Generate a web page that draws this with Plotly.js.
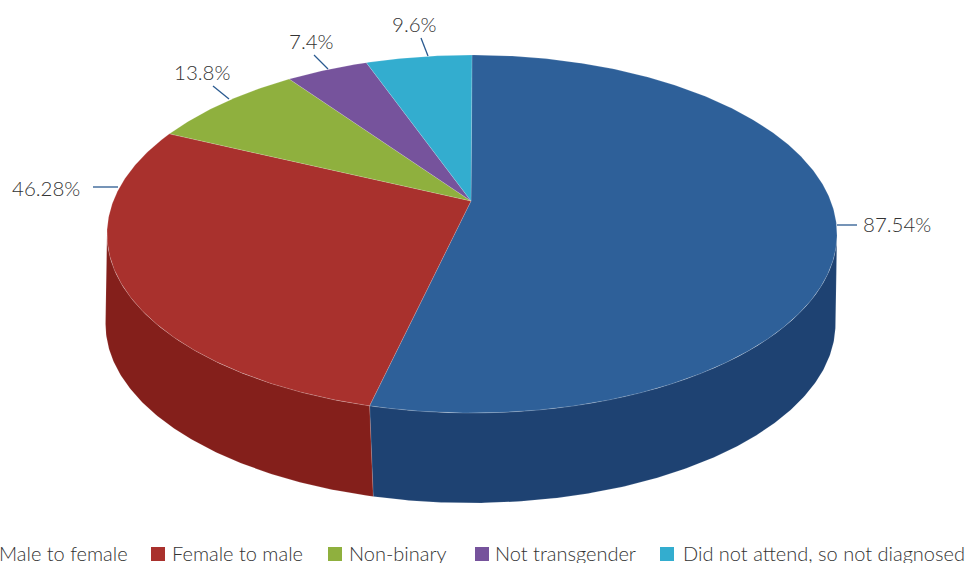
<!DOCTYPE html>
<html><head><meta charset="utf-8">
<script src="https://cdn.plot.ly/plotly-3.0.1.min.js"></script>
<style>html,body{margin:0;padding:0;background:#fff;overflow:hidden}</style>
</head><body><div id="chart" style="width:966px;height:563px"></div>
<script>
const categories = ["Male to female","Female to male","Non-binary","Not transgender","Did not attend, so not diagnosed"];
const values = [87.54,46.28,13.8,7.4,9.6];
const topColors = ["#2e6099","#a9312d","#8fb03e","#76539c","#33adcf"];
const wallColors = ["#1e4272","#841f1b","#7a9a30","#5f4080","#2790ad"];
const labelX = [897,46,202,311,414];
const labelY = [224,188,72,41,24];
const leaders = [[837,225,857,225],[93,187,118,187],[213,86,229,99],[314,55,328,69],[421,38,428,56]];
const legendSwatchX = [-22,158,335,482,667];
const legendTextX = [0,172,349,495,683];
const LEGEND_Y = 553;

const CX=472, CY=234, RX=365, RY=179, APEX_Y=201, DEPTH=90, DX=-1.5;
const deg=Math.PI/180, TAU=2*Math.PI;
const k=(CY-APEX_Y)/RY, a=RX*Math.sqrt(1-k*k);
function project(theta,dx,dy){ // theta clockwise from top, in radians
  const u=Math.sin(theta), v=-Math.cos(theta), w=1-k*v;
  return [CX+dx+a*u/w, CY+dy+(RY*v-k*RY)/w];
}
// small angular skew of the 3D view
function skew(t){const f=t/TAU;return t+2.5*deg*Math.sin(Math.PI*Math.pow(f,1.8));}
const total=values.reduce((s,v)=>s+v,0);
const traces=[];
const thetaRight=Math.acos(-k), thetaLeft=TAU-thetaRight;
let start=0;
const spans=values.map(v=>{const e=start+v/total*TAU;const s=[skew(start),skew(e)];start=e;return s;});
function arc(t0,t1,dx,dy){
  const n=Math.max(2,Math.ceil(Math.abs(t1-t0)*120)),p=[];
  for(let i=0;i<=n;i++)p.push(project(t0+(t1-t0)*i/n,dx,dy));
  return p;
}
function poly(pts,fill,line,lw,name){
  traces.push({type:"scatter",mode:"lines",x:pts.map(p=>p[0]),y:pts.map(p=>p[1]),fill:"toself",fillcolor:fill,
    line:{color:line,width:lw},hoverinfo:"skip",showlegend:false,name:name});
}
const SEAM=0.7*deg; // the seam leans slightly between top and bottom rim
spans.forEach((s,i)=>{
  const t0=Math.max(s[0],thetaRight), t1=Math.min(s[1],thetaLeft);
  if(t1>t0){
    const b0=t0>thetaRight?t0-SEAM:t0, b1=t1<thetaLeft?t1-SEAM:t1;
    const pts=arc(t0,t1,0,0).concat(arc(b1,b0,DX,DEPTH));
    pts.push(pts[0]);
    poly(pts,wallColors[i],"rgba(255,255,255,0.25)",0.5,categories[i]+" side");
  }
});
spans.forEach((s,i)=>{
  const apex=[CX-1,APEX_Y];
  const pts=[apex].concat(arc(s[0],s[1],0,0));pts.push(apex);
  poly(pts,topColors[i],"rgba(255,255,255,0.3)",0.5,categories[i]);
});
categories.forEach((c,i)=>traces.push({type:"scatter",mode:"markers",x:[legendSwatchX[i]],y:[LEGEND_Y+1],name:c,
  marker:{symbol:"square",size:14,color:topColors[i]},hoverinfo:"skip",showlegend:false}));

const labelFont={size:20.5,family:"Lato",color:"#333333",weight:300};
const legendFont={size:20,family:"Lato",color:"#333333",weight:300};
const layout={
  width:966,height:563,margin:{l:0,r:0,t:0,b:0},paper_bgcolor:"#fff",plot_bgcolor:"#fff",
  xaxis:{range:[0,966],visible:false,fixedrange:true},
  yaxis:{range:[563,0],visible:false,fixedrange:true},
  showlegend:false,
  annotations:values.map((v,i)=>({x:labelX[i],y:labelY[i],xref:"x",yref:"y",text:v+"%",showarrow:false,
    font:labelFont,xanchor:"center",yanchor:"middle"})).concat(
    categories.map((c,i)=>({x:legendTextX[i],y:LEGEND_Y,xref:"x",yref:"y",text:c,showarrow:false,
    font:legendFont,xanchor:"left",yanchor:"middle",xshift:i===0?-3:-2}))),
  shapes:leaders.map(l=>({type:"line",xref:"x",yref:"y",x0:l[0],y0:l[1],x1:l[2],y1:l[3],line:{color:"#2a5a90",width:1.3}}))
};
Plotly.newPlot("chart",traces,layout,{displayModeBar:false,staticPlot:true});
</script></body></html>
